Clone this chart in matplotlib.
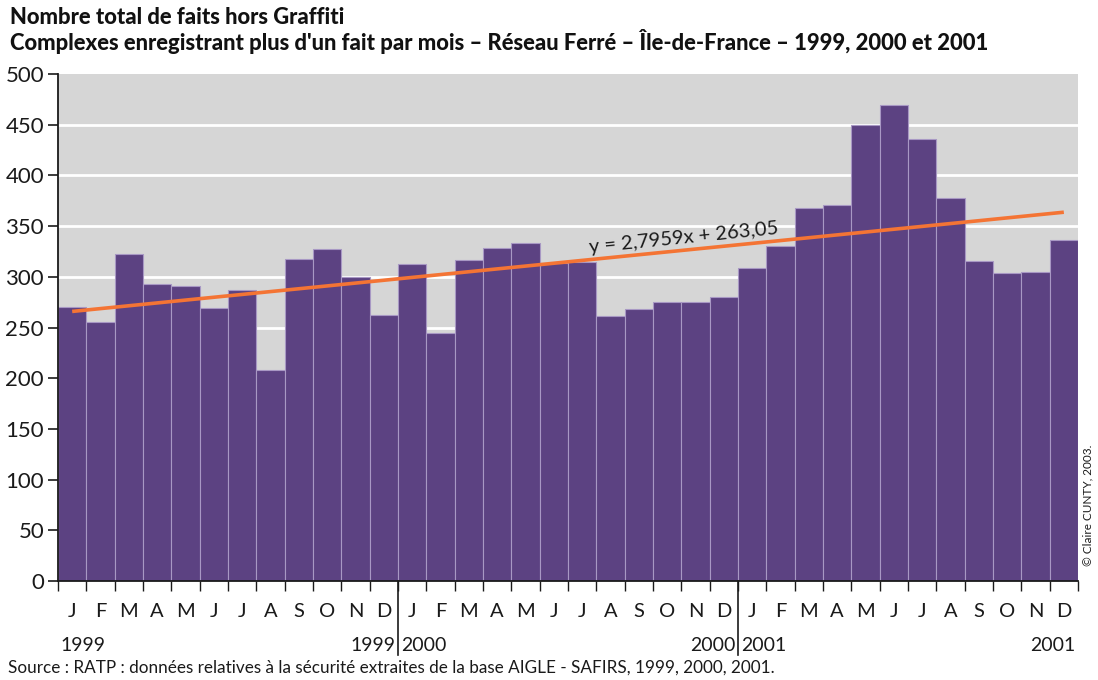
import matplotlib
matplotlib.use('Agg')
import numpy as np
import matplotlib.pyplot as plt
from matplotlib.lines import Line2D

plt.rcParams['font.family'] = ['Lato', 'DejaVu Sans']

# monthly totals, Jan 1999 -> Dec 2001
faits_1999 = [270, 255, 322, 293, 291, 269, 287, 208, 318, 327, 300, 262]
faits_2000 = [313, 245, 317, 328, 333, 314, 315, 261, 268, 275, 275, 280]
faits_2001 = [309, 330, 368, 371, 450, 469, 436, 378, 316, 304, 305, 336]
mois = ['J', 'F', 'M', 'A', 'M', 'J', 'J', 'A', 'S', 'O', 'N', 'D']
annees = ['1999', '2000', '2001']
pente, origine = 2.7959, 263.05

valeurs = faits_1999 + faits_2000 + faits_2001
n = len(valeurs)
x = np.arange(1, n + 1)

fig = plt.figure(figsize=(10.98, 6.8), dpi=100)
ax = fig.add_axes([58 / 1098, 1 - 581 / 680, 1020 / 1098, 507 / 680])
ax.set_facecolor('#d6d6d6')

# white grid behind the bars
for g in range(50, 500, 50):
    ax.axhline(g, color='white', lw=2, zorder=1)

ax.bar(x, valeurs, width=1.0, color='#5c4282', edgecolor='#a898c4',
       linewidth=0.8, zorder=2)

# linear trend
tx = np.array([1, n])
ax.plot(tx, pente * tx + origine, color='#f47434', lw=2.6, zorder=3,
        solid_capstyle='butt')
ax.text(22.6, pente * 22.6 + origine + 12, 'y = 2,7959x + 263,05',
        fontsize=14.5, rotation=5.8, ha='center', va='center',
        rotation_mode='anchor', color='#1a1a1a', zorder=4)

ax.set_xlim(0.5, n + 0.5)
ax.set_ylim(0, 500)
ax.set_yticks(range(0, 501, 50))
ax.tick_params(axis='y', labelsize=16, length=7, width=1.2, pad=3,
               colors='#1a1a1a')

# ticks at month boundaries, labels set by hand below
ax.set_xticks(np.arange(0.5, n + 1, 1))
ax.set_xticklabels([])
ax.tick_params(axis='x', length=7, width=1, colors='#1a1a1a')

for s in ['top', 'right']:
    ax.spines[s].set_visible(False)
ax.spines['left'].set_linewidth(1.3)
ax.spines['bottom'].set_linewidth(1.3)
ax.spines['left'].set_color('#1a1a1a')
ax.spines['bottom'].set_color('#1a1a1a')

trans = ax.get_xaxis_transform()
for i in range(n):
    ax.text(x[i], -0.061, mois[i % 12], transform=trans, ha='center',
            va='center', fontsize=14.5, color='#1a1a1a')

for k, an in enumerate(annees):
    debut = 12 * k + 0.5
    fin = 12 * (k + 1) + 0.5
    ax.text(debut + 0.1, -0.127, an, transform=trans, ha='left',
            va='center', fontsize=14, color='#1a1a1a')
    ax.text(fin - 0.1, -0.127, an, transform=trans, ha='right',
            va='center', fontsize=14, color='#1a1a1a')

# year separators
for sep in [12.5, 24.5]:
    ax.add_line(Line2D([sep, sep], [0, -0.145], transform=trans,
                       color='#1a1a1a', lw=1.2, clip_on=False))

fig.text(10 / 1098, 1 - 17 / 680, 'Nombre total de faits hors Graffiti',
         fontsize=15.8, fontweight='black', va='center', ha='left',
         color='#111111')
fig.text(10 / 1098, 1 - 41 / 680,
         "Complexes enregistrant plus d'un fait par mois – Réseau Ferré – "
         "Île-de-France – 1999, 2000 et 2001",
         fontsize=15.8, fontweight='black', va='center', ha='left',
         color='#111111')
fig.text(8 / 1098, 1 - 668 / 680,
         'Source : RATP : données relatives à la sécurité extraites de la '
         'base AIGLE - SAFIRS, 1999, 2000, 2001.',
         fontsize=12.3, va='center', ha='left', color='#1a1a1a')
fig.text(1088 / 1098, 1 - 505 / 680, '© Claire CUNTY, 2003.',
         fontsize=8.5, rotation=90, va='center', ha='center',
         color='#1a1a1a', fontstretch='condensed')

fig.savefig('out.png', dpi=100)
